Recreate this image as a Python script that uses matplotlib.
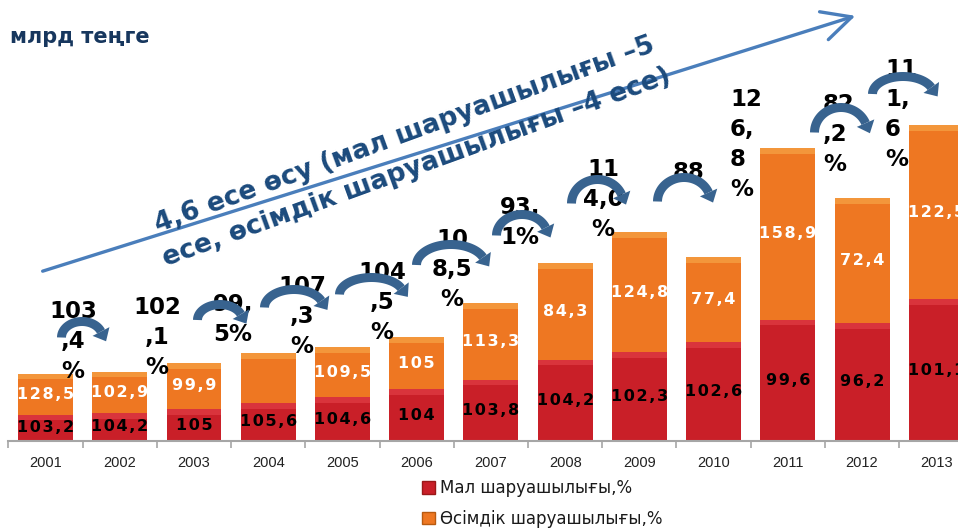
import matplotlib
matplotlib.use('Agg')
import matplotlib.pyplot as plt
import numpy as np
from matplotlib import transforms as mtransforms
from matplotlib.lines import Line2D
from matplotlib.patches import Polygon, Patch, FancyArrowPatch

# ---------------- data ----------------
years = ['2001', '2002', '2003', '2004', '2005', '2006', '2007',
         '2008', '2009', '2010', '2011', '2012', '2013']
livestock = [210, 225, 255, 305, 350, 415, 490, 650, 710, 790, 970, 945, 1135]
crop = [330, 330, 370, 400, 400, 415, 615, 775, 960, 680, 1375, 1000, 1390]
livestock_labels = ['103,2', '104,2', '105', '105,6', '104,6', '104', '103,8',
                    '104,2', '102,3', '102,6', '99,6', '96,2', '101,1']
crop_labels = ['128,5', '102,9', '99,9', '', '109,5', '105', '113,3',
               '84,3', '124,8', '77,4', '158,9', '72,4', '122,5']
growth_labels = ['103\n,4\n%', '102\n,1\n%', '99,\n5%', '107\n,3\n%', '104\n,5\n%',
                 '10\n8,5\n%', '93,\n1%', '11\n4,0\n%', '88', '12\n6,\n8\n%',
                 '82\n,2\n%', '11\n1,\n6\n%']
legend_labels = ['Мал шаруашылығы,%', 'Өсімдік шаруашылығы,%']
title = 'млрд теңге'
trend_text = '4,6 есе өсу (мал шаруашылығы –5\nесе, өсімдік шаруашылығы –4 есе)'

# ---------------- layout (pixel positions of annotations) ----------------
W, H = 958, 531
growth_pos = [(73, 312, 'center'), (157, 308, 'center'), (233, 305, 'center'),
              (302, 287, 'center'), (382, 273, 'center'), (452, 240, 'center'),
              (520, 208, 'center'), (603, 170, 'center'), (689, 173, 'center'),
              (730, 100, 'left'), (823, 105, 'left'), (885, 70, 'left')]
arcs = [((57, 338), (107, 337), 317), ((193, 322), (247, 318), 300),
        ((260, 308), (328, 307), 285), ((335, 297), (408, 292), 273),
        ((412, 268), (490, 262), 240), ((492, 238), (552, 233), 210),
        ((567, 207), (628, 200), 175), ((653, 203), (715, 200), 173),
        ((810, 133), (872, 132), 103), ((868, 95), (938, 93), 72)]

RED = '#C91F28'
RED_TOP = '#E5434A'
ORANGE = '#EE7722'
ORANGE_TOP = '#F6A447'
ARC_COL = '#38638F'
DARK_BLUE = '#1B4A7C'

fig = plt.figure(figsize=(W / 100, H / 100), dpi=100)
pix = mtransforms.Affine2D().scale(1, -1).translate(0, H)

ax = fig.add_axes([8.4 / W, 1 - 441 / H, 965 / W, 441 / H])
x = np.arange(len(years))
livestock_a = np.array(livestock, dtype=float)
crop_a = np.array(crop, dtype=float)
bw = 0.74
ax.bar(x, livestock_a, width=bw, color=RED, zorder=2)
ax.bar(x, crop_a, width=bw, bottom=livestock_a, color=ORANGE, zorder=2)
# bevel highlight on top of each segment
bev = 45
ax.bar(x, np.minimum(bev, livestock_a), width=bw, bottom=livestock_a - np.minimum(bev, livestock_a),
       color=RED_TOP, alpha=0.6, zorder=2.1, lw=0)
ax.bar(x, np.minimum(bev, crop_a), width=bw,
       bottom=livestock_a + crop_a - np.minimum(bev, crop_a),
       color=ORANGE_TOP, alpha=0.7, zorder=2.1, lw=0)
ax.set_xlim(-0.5, len(years) - 0.5)
ax.set_ylim(0, 3528)
ax.patch.set_alpha(0)

def spaced(s):
    return '\u200a'.join(s)

for i in range(len(years)):
    ax.text(x[i], livestock_a[i] / 2, spaced(livestock_labels[i]), ha='center', va='center',
            fontsize=11.5, fontweight='bold', color='black', zorder=3)
    if crop_labels[i]:
        ax.text(x[i], livestock_a[i] + crop_a[i] / 2, spaced(crop_labels[i]), ha='center',
                va='center', fontsize=11.5, fontweight='bold', color='white', zorder=3)

for s in ['left', 'right', 'top']:
    ax.spines[s].set_visible(False)
ax.spines['bottom'].set_color('#A6A6A6')
ax.spines['bottom'].set_linewidth(1.5)
ax.set_yticks([])
ax.set_xticks(x)
ax.set_xticklabels(years, fontsize=10.5, family='Liberation Sans', color='#222222')
ax.tick_params(axis='x', which='major', length=0, pad=11)
ax.set_xticks(np.arange(-0.5, len(years)), minor=True)
ax.tick_params(axis='x', which='minor', length=5, color='#A6A6A6', width=1.2)

# title
fig.text(10 / W, 1 - 37 / H, title, fontsize=15, fontweight='bold', color='#17375E',
         ha='left', va='center')

# trend arrow
fig.add_artist(FancyArrowPatch((40, 272), (858, 15), transform=pix,
                               arrowstyle='->,head_length=0.7,head_width=0.35',
                               mutation_scale=30, lw=2.4, color='#4A7EBB'))
fig.text(411, 151, trend_text, transform=pix, rotation=20, rotation_mode='anchor',
         ha='center', va='center', multialignment='center', fontsize=19,
         fontweight='bold', color=DARK_BLUE, linespacing=1.42)

# growth labels
for (px, py, al), lab in zip(growth_pos, growth_labels):
    fig.text(px, py - 12, lab, transform=pix, ha=al, va='top', multialignment=al,
             fontsize=16.5, fontweight='bold', color='black', linespacing=1.38,
             zorder=4)

# curved arrows
def curved_arrow(left, right, top):
    th = 9  # thickness px
    cx = (left[0] + right[0]) / 2
    cy = (left[1] + right[1]) / 2
    rx = (right[0] - left[0]) / 2 - th / 2
    ry = cy - top - th / 2
    t_end = np.deg2rad(22)
    t = np.linspace(np.pi, t_end, 60)
    xs = cx + rx * np.cos(t)
    ys = cy - ry * np.sin(t)
    fig.add_artist(Line2D(xs, ys, transform=pix, color=ARC_COL, lw=th * 0.72,
                          solid_capstyle='butt', zorder=5))
    P = np.array([xs[-1], ys[-1]])
    T = np.array([rx * np.sin(t_end), ry * np.cos(t_end)])
    T = T / np.linalg.norm(T)
    N = np.array([-T[1], T[0]])
    hw, hl = 9.5, 11
    pts = [P + N * hw, P - N * hw, P + T * hl]
    fig.add_artist(Polygon(pts, closed=True, transform=pix, color=ARC_COL, lw=0,
                           zorder=5))

for l, r, tp in arcs:
    curved_arrow(l, r, tp)

# legend
handles = [Patch(facecolor=RED, edgecolor='#9A1818'),
           Patch(facecolor=ORANGE, edgecolor='#B85A10')]
fig.legend(handles, legend_labels, loc='upper left',
           bbox_to_anchor=(414 / W, 1 - 471 / H), frameon=False, fontsize=12,
           handlelength=0.75, handleheight=0.75, handletextpad=0.3,
           labelspacing=0.75, borderpad=0, labelcolor='#1a1a1a')

fig.savefig('out.png', dpi=100)
